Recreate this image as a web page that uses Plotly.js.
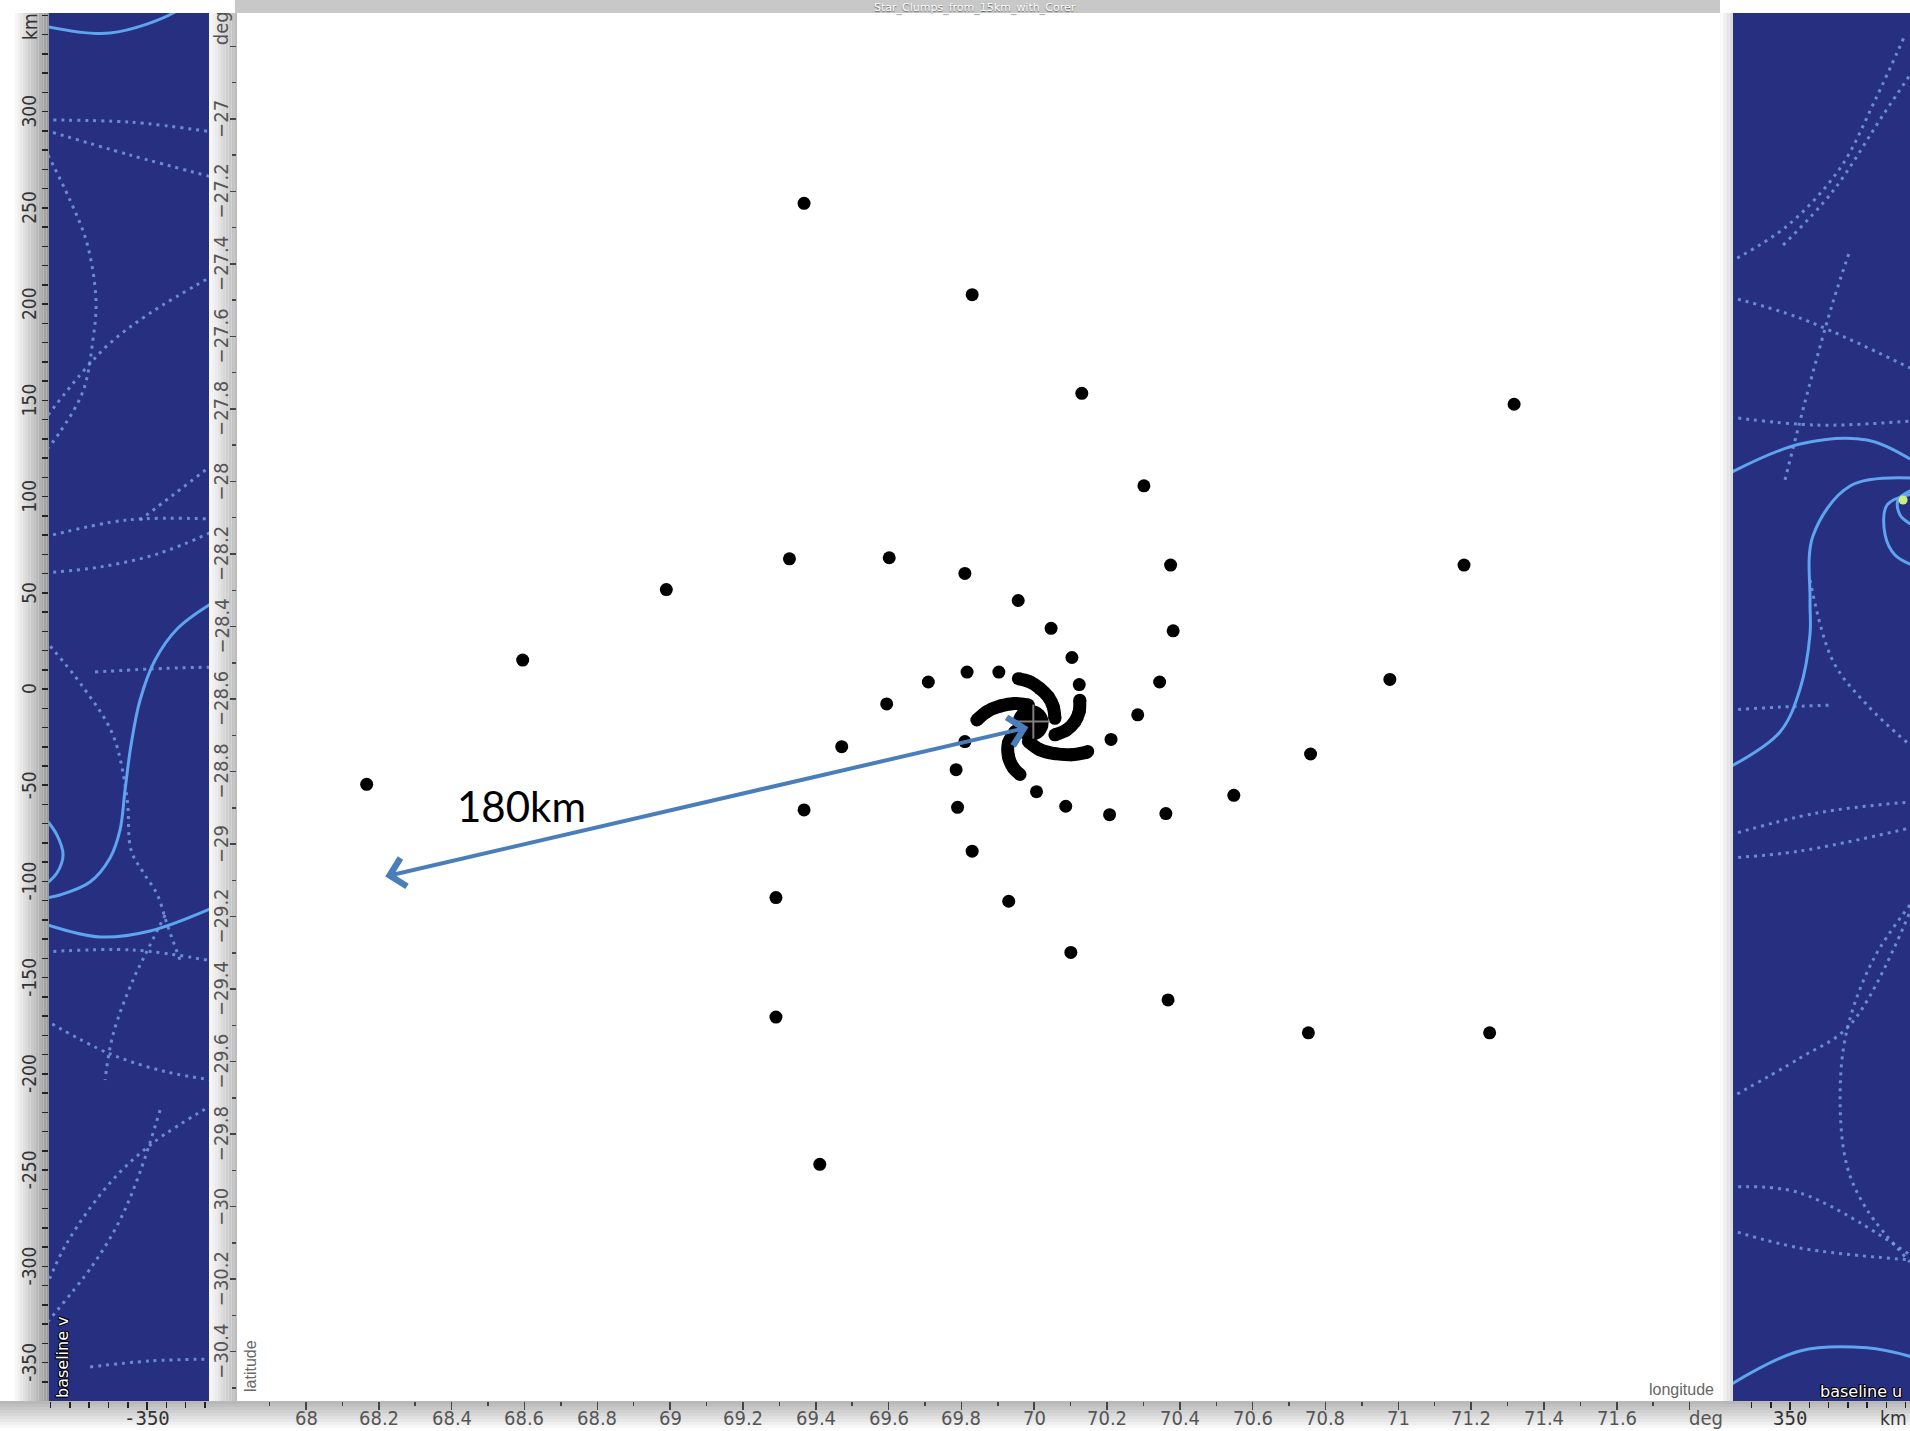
<!DOCTYPE html>
<html><head><meta charset="utf-8">
<script src="https://cdn.plot.ly/plotly-3.0.1.min.js"></script>
<style>html,body{margin:0;padding:0;background:#fff;overflow:hidden}#chart{width:1910px;height:1431px}</style>
</head><body><div id="chart"></div>
<script>
const W = 1910, H = 1431;

// ---------- central sky map (deg) ----------
const clumpLon = [69.3679,69.8296,70.1307,71.3180,70.3013,69.3278,69.6018,69.8096,70.3746,71.1805,68.9896,69.9561,70.0464,70.3816,68.5951,70.1036,69.8156,69.9029,69.7092,70.1237,70.3445,70.9768,69.5948,70.2843,70.2110,69.4713,69.8096,70.1468,70.7590,68.1666,69.7855,70.0063,70.5482,69.3679,69.7895,70.0866,70.2070,70.3616,69.8296,69.2907,69.9300,70.1006,70.3676,69.2907,70.7530,71.2508,69.4111];
const clumpLat = [-27.2328,-27.4848,-27.7569,-27.7871,-28.0119,-28.2134,-28.2104,-28.2537,-28.2305,-28.2305,-28.2981,-28.3283,-28.4049,-28.4120,-28.4926,-28.4855,-28.5258,-28.5258,-28.5530,-28.5601,-28.5530,-28.5460,-28.6135,-28.6437,-28.7113,-28.7314,-28.7173,-28.7445,-28.7516,-28.8352,-28.7949,-28.8554,-28.8655,-28.9058,-28.8987,-28.8957,-28.9189,-28.9159,-29.0197,-29.1476,-29.1577,-29.2988,-29.4298,-29.4772,-29.5205,-29.5205,-29.8833];

const armALon = [69.9565,69.9884,70.0158,70.0386,70.0523,70.0568];
const armALat = [-28.5438,-28.5529,-28.5711,-28.5939,-28.6213,-28.6532];
const armBLon = [70.1252,70.1234,70.1116,70.0888,70.0568];
const armBLat = [-28.6031,-28.6350,-28.6623,-28.6851,-28.6988];
const armCLon = [69.8425,69.8699,69.9064,69.9474,69.9839];
const armCLat = [-28.6578,-28.6350,-28.6195,-28.6122,-28.6168];
const armDLon = [69.9839,70.0158,70.0568,70.1024,70.1435];
const armDLat = [-28.7171,-28.7399,-28.7508,-28.7535,-28.7472];
const armELon = [69.9474,69.9292,69.9292,69.9428,69.9611];
const armELat = [-28.6897,-28.7216,-28.7581,-28.7900,-28.8082];
const coreLon = [69.990];
const coreLat = [-28.666];
const crossCenter = [69.9976, -28.6623];
const crossHalf = [0.046, 0.047];

const arrowTip = [69.984, -28.678];
const arrowTail = [68.2134, -29.0905];
const distLabel = '180km';
const distLabelPos = [68.5905, -28.8946];

const lonTickVals = [68,68.2,68.4,68.6,68.8,69,69.2,69.4,69.6,69.8,70,70.2,70.4,70.6,70.8,71,71.2,71.4,71.6,71.8];
const lonTickText = ['68','68.2','68.4','68.6','68.8','69','69.2','69.4','69.6','69.8','70','70.2','70.4','70.6','70.8','71','71.2','71.4','71.6',''];
const latTickVals = [-26.8,-27,-27.2,-27.4,-27.6,-27.8,-28,-28.2,-28.4,-28.6,-28.8,-29,-29.2,-29.4,-29.6,-29.8,-30,-30.2,-30.4];
const latTickText = ['','−27','−27.2','−27.4','−27.6','−27.8','−28','−28.2','−28.4','−28.6','−28.8','−29','−29.2','−29.4','−29.6','−29.8','−30','−30.2','−30.4'];
const lonUnitPos = 71.844;
const latUnitPos = -26.75;
const lonRange = [67.8105, 71.8835];
const latRange = [-30.536, -26.708];

// ---------- baseline (uv) panels, km ----------
const vRange = [-369.9, 351.2];
const leftURange = [-400.9, -317.8];
const rightURange = [320.4, 412.3];
const vTickVals = [300,250,200,150,100,50,0,-50,-100,-150,-200,-250,-300,-350];
const vTickText = ['300','250','200','150','100','50','0','-50','-100','-150','-200','-250','-300','-350'];
const leftUTickVals = [-350];
const leftUTickText = ['-350'];
const rightUTickVals = [350];
const rightUTickText = ['350'];

const leftDottedTracks = [
 [[-403,-358.8,-316.2],[295.6,294.5,289.4]],
 [[-403,-358.8,-316.2],[290.4,277.4,266.0]],
 [[-401.4,-390,-381.2,-376.5,-378.1,-383.2,-395.2,-401.4],[277.4,254.0,231.7,202.1,181.3,154.8,133.5,125.2]],
 [[-401.4,-384.8,-369.2,-348.4,-316.2],[142.3,163.1,179.7,195.3,214.5]],
 [[-403,-360.4,-316.2],[79.0,87.8,88.3]],
 [[-403,-374.4,-344.8,-316.2],[60.3,63.4,70.1,81.6]],
 [[-316.2,-336.5,-353.6],[116.4,100.8,87.8]],
 [[-403,-383.2,-367.7,-360.4,-358.3,-352.1,-344.8,-339.6,-332.9],[25.5,1.0,-23.9,-56.6,-83.6,-95.1,-106.5,-122.1,-140.8]],
 [[-377,-348.4,-316.2],[8.8,10.4,11.4]],
 [[-403,-357.3,-316.2],[-136.6,-135.6,-141.3]],
 [[-340.6,-351.0,-357.3,-367.7,-371.8],[-117.4,-138.2,-151.2,-179.7,-203.1]],
 [[-403,-369.2,-339.6,-316.2],[-171.9,-189.6,-199.0,-203.1]],
 [[-316.2,-346.9,-369.2,-391.6,-403],[-216.1,-235.8,-256.6,-287.8,-312.2]],
 [[-343.2,-353.6,-364.0,-378.1,-403],[-218.7,-250.9,-275.8,-299.2,-330.4]],
 [[-379.6,-348.4,-316.2],[-352.2,-349.1,-348.1]]
];
const leftSolidTracks = [
 [[-403,-369.2,-335.5,-330],[344.4,340.8,351.7,357]],
 [[-316.2,-333.9,-345.8,-353.6,-358.3,-361.4,-364.0,-369.2,-379.6,-395.2,-403],[44.7,31.7,15.1,-5.7,-29.1,-52.5,-73.2,-87.8,-100.3,-107.0,-108.6]],
 [[-403,-396.8,-393.6,-396.8,-403],[-67.0,-75.8,-86.2,-95.6,-101.8]],
 [[-403,-374.4,-348.4,-316.2],[-122.1,-128.8,-125.7,-113.8]]
];
const rightDottedTracks = [
 [[318.8,348.4,376.0,394.2,409.7],[221.8,240.5,270.6,306.0,339.7]],
 [[346.4,372.3,398.3,412.3],[230.6,258.7,298.2,319.0]],
 [[318.8,355.2,412.3],[203.6,192.7,166.8]],
 [[347.4,360.4,372.3,381.2],[108.6,159.0,201.0,228.1]],
 [[318.8,364.0,412.3],[141.3,137.1,139.2]],
 [[360.4,372.3,390.0,412.3],[56.6,14.5,-8.3,-29.1]],
 [[318.8,344.8,372.3],[-10.9,-9.4,-8.3]],
 [[318.8,364.0,412.3],[-75.8,-64.4,-58.7]],
 [[318.8,355.2,412.3],[-87.8,-84.2,-72.2]],
 [[412.3,393.1,379.6,376.0,379.6,390.0,412.3],[-112.2,-140.8,-177.1,-211.4,-247.8,-270.6,-297.7]],
 [[318.8,355.2,381.2,412.3],[-212.5,-191.7,-174.5,-115.8]],
 [[318.8,355.2,412.3],[-258.7,-261.8,-294.0]],
 [[318.8,355.2,412.3],[-281.0,-290.4,-296.6]]
];
const rightSolidTracks = [
 [[318.8,355.2,390.0,412.3],[112.2,127.3,129.4,119.5]],
 [[413.4,381.2,361.9,360.4,360.4,355.2,344.8,318.8],[109.6,105.5,79.5,46.2,28.6,0,-22.3,-40.5]],
 [[413.4,400.4,399.4,404.5,413.4],[101.3,95.6,80.0,69.6,64.4]],
 [[413.4,406.1,407.1,413.4],[103.4,98.2,90.4,85.2]],
 [[318.8,355.2,390.0,413.4],[-361.6,-343.9,-342.3,-347.0]]
];
const brightSpotU = [408.7];
const brightSpotV = [98.2];

// ---------- styles ----------
const PANEL_BLUE = '#262f80';
const DOT_COL = 'rgba(118,155,228,0.85)';
const SOLID_COL = '#5ea4ee';
const NARROW = 'Liberation Sans Narrow, DejaVu Sans Condensed, Liberation Sans, sans-serif';
const tickFont = {family: NARROW, size:20, color:'#555'};
const panelTickFont = {family: NARROW, size:19, color:'#333'};
const monoFont = {family:'DejaVu Sans Mono, Liberation Mono, monospace', size:19, color:'#333'};
const outline = '1px 0 0 #000, -1px 0 0 #000, 0 1px 0 #000, 0 -1px 0 #000, 1px 1px 0 #000, -1px -1px 0 #000';

const PX = x => x / W, PY = y => 1 - y / H;
const yDom = [PY(1401), PY(13)];
const LABEL_ROW = PY(1418);

// ---------- traces ----------
const traces = [];
function addTracks(list, xa, ya, solid) {
  list.forEach(t => traces.push({
    x: t[0], y: t[1], xaxis: xa, yaxis: ya, type: 'scatter', mode: 'lines',
    line: solid ? {color: SOLID_COL, width: 3, shape: 'spline'}
                : {color: DOT_COL, width: 3, shape: 'spline', dash: '3px,5px'},
    hoverinfo: 'skip'
  }));
}
addTracks(leftDottedTracks, 'x2', 'y2', false);
addTracks(leftSolidTracks, 'x2', 'y2', true);
addTracks(rightDottedTracks, 'x3', 'y3', false);
addTracks(rightSolidTracks, 'x3', 'y3', true);
traces.push({x: brightSpotU, y: brightSpotV, xaxis: 'x3', yaxis: 'y3', mode: 'markers',
  marker: {color: '#c8f080', size: 9, line: {width: 0}}, hoverinfo: 'skip'});

[[armALon,armALat],[armBLon,armBLat],[armCLon,armCLat],[armDLon,armDLat],[armELon,armELat]].forEach(a => {
  traces.push({x: a[0], y: a[1], xaxis: 'x', yaxis: 'y', mode: 'lines+markers',
    line: {color: '#000', width: 13, shape: 'spline'}, marker: {color: '#000', size: 13},
    hoverinfo: 'skip'});
});
traces.push({x: coreLon, y: coreLat, xaxis: 'x', yaxis: 'y', mode: 'markers',
  marker: {color: '#000', size: 36}, hoverinfo: 'skip'});
traces.push({
  x: [crossCenter[0]-crossHalf[0], crossCenter[0]+crossHalf[0], null, crossCenter[0], crossCenter[0]],
  y: [crossCenter[1], crossCenter[1], null, crossCenter[1]+crossHalf[1], crossCenter[1]-crossHalf[1]],
  xaxis: 'x', yaxis: 'y', mode: 'lines', line: {color: '#808080', width: 2}, hoverinfo: 'skip'});
traces.push({x: clumpLon, y: clumpLat, xaxis: 'x', yaxis: 'y', mode: 'markers',
  marker: {color: '#000', size: 13}, hoverinfo: 'skip'});

// ---------- decorative shapes ----------
function hex(c){return [parseInt(c.substr(1,2),16),parseInt(c.substr(3,2),16),parseInt(c.substr(5,2),16)];}
function grad(x0,x1,y0,y1,c0,c1,n,dir){
  const a = hex(c0), b = hex(c1), out = [];
  for (let i = 0; i < n; i++) {
    const f = n === 1 ? 0 : i/(n-1);
    const col = 'rgb(' + a.map((v,k) => Math.round(v + (b[k]-v)*f)).join(',') + ')';
    let sx0=x0, sx1=x1, sy0=y0, sy1=y1;
    if (dir === 'x') { sx0 = x0 + (x1-x0)*i/n; sx1 = x0 + (x1-x0)*(i+1)/n; }
    else { sy0 = y0 + (y1-y0)*i/n; sy1 = y0 + (y1-y0)*(i+1)/n; }
    out.push({type:'rect', xref:'paper', yref:'paper', x0:PX(sx0), x1:PX(sx1), y0:PY(sy1), y1:PY(sy0),
      fillcolor: col, line:{width:0}, layer:'below'});
  }
  return out;
}
const shapes = [].concat(
  grad(12,49,13,1401,'#ffffff','#9a9a9a',14,'x'),
  grad(209,237,13,1401,'#f8f8f8','#bcbcbc',10,'x'),
  grad(1720,1733,13,1401,'#fafafa','#dcdcdc',4,'x'),
  grad(0,1910,1401,1431,'#b8b8b8','#ffffff',10,'y'),
  [
    {type:'rect', xref:'paper', yref:'paper', x0:PX(235), x1:PX(1720), y0:PY(13), y1:1,
     fillcolor:'#c8c8c8', line:{width:0}, layer:'below'},
    {type:'rect', xref:'x2 domain', yref:'y2 domain', x0:0, x1:1, y0:0, y1:1,
     fillcolor: PANEL_BLUE, line:{width:0}, layer:'below'},
    {type:'rect', xref:'x3 domain', yref:'y3 domain', x0:0, x1:1, y0:0, y1:1,
     fillcolor: PANEL_BLUE, line:{width:0}, layer:'below'}
  ]
);

// ---------- annotations ----------
const annotations = [
  {xref:'paper', yref:'paper', x:PX(975), y:PY(7), xanchor:'center', yanchor:'middle', showarrow:false,
   text:'Star_Clumps_from_15km_with_Corer', borderpad:0,
   font:{family:'DejaVu Sans, sans-serif', size:11, color:'#ffffff', shadow:'0 1px 1px rgba(0,0,0,0.5)'}},
  {xref:'x', yref:'paper', x:lonUnitPos, y:LABEL_ROW, xanchor:'center', yanchor:'middle', showarrow:false,
   text:'deg', font:tickFont},
  {xref:'paper', yref:'y', x:PX(221), y:latUnitPos, xanchor:'center', yanchor:'middle', showarrow:false,
   text:'deg', textangle:-90, font:tickFont},
  {xref:'paper', yref:'paper', x:PX(1716), y:PY(1389), xanchor:'right', yanchor:'middle', showarrow:false,
   text:'longitude', font:{family:'Liberation Sans, sans-serif', size:16, color:'#666'}},
  {xref:'paper', yref:'paper', x:PX(250), y:PY(1366), xanchor:'center', yanchor:'middle', showarrow:false,
   text:'latitude', textangle:-90, font:{family:'Liberation Sans, sans-serif', size:16, color:'#666'}},
  {xref:'paper', yref:'paper', x:PX(30), y:PY(27), xanchor:'center', yanchor:'middle', showarrow:false,
   text:'km', textangle:-90, font:panelTickFont},
  {xref:'paper', yref:'paper', x:PX(1893), y:LABEL_ROW, xanchor:'center', yanchor:'middle', showarrow:false,
   text:'km', font:panelTickFont},
  {xref:'paper', yref:'paper', x:PX(62), y:PY(1357), xanchor:'center', yanchor:'middle', showarrow:false,
   text:'baseline v', textangle:-90,
   font:{family:'DejaVu Sans, sans-serif', size:16, color:'#ffffff', shadow:outline}},
  {xref:'paper', yref:'paper', x:PX(1861), y:PY(1391), xanchor:'center', yanchor:'middle', showarrow:false,
   text:'baseline u',
   font:{family:'DejaVu Sans, sans-serif', size:16, color:'#ffffff', shadow:outline}},
  {xref:'x', yref:'y', x:arrowTip[0], y:arrowTip[1], axref:'x', ayref:'y', ax:arrowTail[0], ay:arrowTail[1],
   text:'', showarrow:true, arrowside:'end+start', arrowhead:4, startarrowhead:4, arrowsize:1.4, startarrowsize:1.4,
   arrowwidth:4, arrowcolor:'#4a7ebb', standoff:0, startstandoff:0},
  {xref:'x', yref:'y', x:distLabelPos[0], y:distLabelPos[1], xanchor:'center', yanchor:'middle', showarrow:false,
   text:distLabel, font:{family:'Lato, Open Sans, sans-serif', size:42, color:'#000'}}
];
lonTickVals.forEach((v,i) => { if (lonTickText[i]) annotations.push({xref:'x', yref:'paper', x:v, y:LABEL_ROW,
  xanchor:'center', yanchor:'middle', showarrow:false, text:lonTickText[i], font:tickFont}); });
latTickVals.forEach((v,i) => { if (latTickText[i]) annotations.push({xref:'paper', yref:'y', x:PX(221), y:v,
  xanchor:'center', yanchor:'middle', showarrow:false, textangle:-90, text:latTickText[i], font:tickFont}); });
vTickVals.forEach((v,i) => annotations.push({xref:'paper', yref:'y2', x:PX(29), y:v,
  xanchor:'center', yanchor:'middle', showarrow:false, textangle:-90, text:vTickText[i], font:panelTickFont}));
leftUTickVals.forEach((v,i) => annotations.push({xref:'x2', yref:'paper', x:v, y:LABEL_ROW,
  xanchor:'center', yanchor:'middle', showarrow:false, text:leftUTickText[i], font:monoFont}));
rightUTickVals.forEach((v,i) => annotations.push({xref:'x3', yref:'paper', x:v, y:LABEL_ROW,
  xanchor:'center', yanchor:'middle', showarrow:false, text:rightUTickText[i], font:monoFont}));

// ---------- layout ----------
const axBase = {showgrid:false, zeroline:false, showline:false, automargin:false, fixedrange:true, showticklabels:false};
const layout = {
  width: W, height: H, autosize: false,
  margin: {l:0, r:0, t:0, b:0, pad:0},
  paper_bgcolor: '#ffffff', plot_bgcolor: '#ffffff',
  showlegend: false, hovermode: false,
  xaxis: Object.assign({}, axBase, {domain:[PX(237), PX(1720)], range: lonRange, anchor:'y',
    tickmode:'array', tickvals: lonTickVals,
    ticks:'outside', ticklen:8, tickwidth:1.5, tickcolor:'#444',
    minor:{tickmode:'linear', tick0:0, dtick:0.1, ticks:'outside', ticklen:4, tickwidth:1.5, tickcolor:'#444', showgrid:false}}),
  yaxis: Object.assign({}, axBase, {domain: yDom, range: latRange, anchor:'x',
    tickmode:'array', tickvals: latTickVals,
    ticks:'outside', ticklen:6, tickwidth:1.5, tickcolor:'#444',
    minor:{tickmode:'linear', tick0:0, dtick:0.1, ticks:'outside', ticklen:4, tickwidth:1.5, tickcolor:'#444', showgrid:false}}),
  xaxis2: Object.assign({}, axBase, {domain:[PX(49), PX(209)], range: leftURange, anchor:'y2',
    tickmode:'array', tickvals: leftUTickVals,
    ticks:'outside', ticklen:8, tickwidth:1.5, tickcolor:'#222',
    minor:{tickmode:'linear', tick0:0, dtick:10, ticks:'outside', ticklen:6, tickwidth:1.5, tickcolor:'#222', showgrid:false}}),
  yaxis2: Object.assign({}, axBase, {domain: yDom, range: vRange, anchor:'x2',
    tickmode:'array', tickvals: vTickVals,
    ticks:'outside', ticklen:6, tickwidth:1.5, tickcolor:'#222',
    minor:{tickmode:'linear', tick0:0, dtick:10, ticks:'outside', ticklen:6, tickwidth:1.5, tickcolor:'#222', showgrid:false}}),
  xaxis3: Object.assign({}, axBase, {domain:[PX(1733), 1], range: rightURange, anchor:'y3',
    tickmode:'array', tickvals: rightUTickVals,
    ticks:'outside', ticklen:8, tickwidth:1.5, tickcolor:'#222',
    minor:{tickmode:'linear', tick0:0, dtick:10, ticks:'outside', ticklen:6, tickwidth:1.5, tickcolor:'#222', showgrid:false}}),
  yaxis3: Object.assign({}, axBase, {domain: yDom, range: vRange, anchor:'x3', ticks:''}),
  shapes: shapes,
  annotations: annotations
};

Plotly.newPlot('chart', traces, layout, {staticPlot:true, displayModeBar:false});
</script>
</body></html>
